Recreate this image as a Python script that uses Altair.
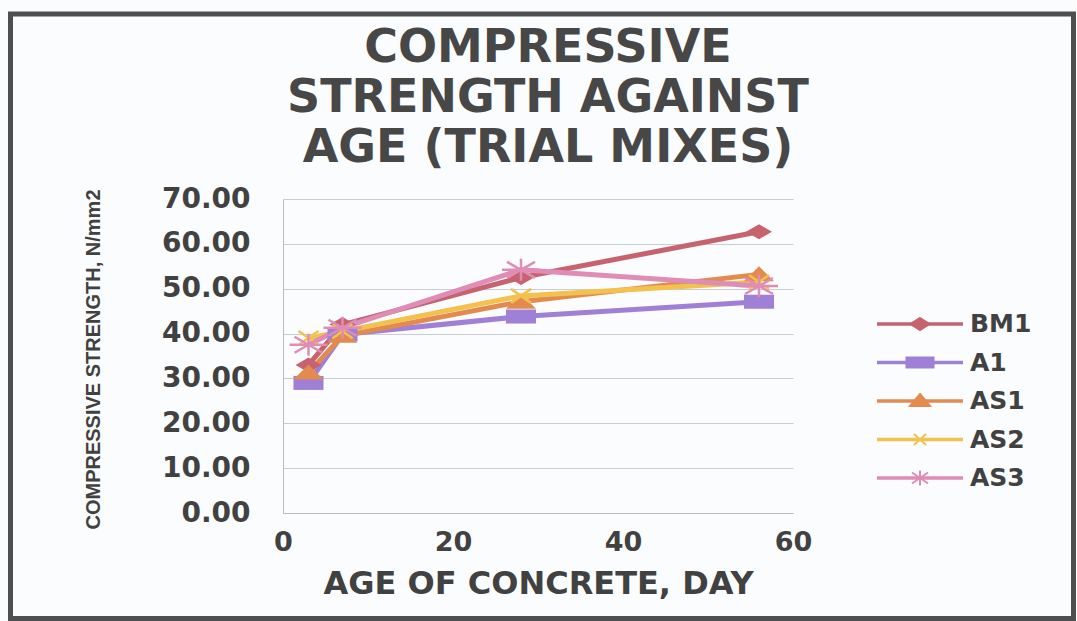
import altair as alt
import pandas as pd

# Compressive strength (N/mm2) of the trial mixes at each test age (days)
ages = [3, 7, 28, 56]
series_names = ["BM1", "A1", "AS1", "AS2", "AS3"]
strength = {
    "BM1": [33.0, 42.0, 52.5, 62.7],
    "A1": [29.0, 39.8, 43.8, 47.1],
    "AS1": [31.3, 39.5, 47.1, 53.2],
    "AS2": [39.0, 40.5, 48.4, 51.5],
    "AS3": [37.5, 41.3, 54.2, 50.6],
}
y_ticks = [0, 10, 20, 30, 40, 50, 60, 70]
x_ticks = [0, 20, 40, 60]
title_lines = ["COMPRESSIVE", "STRENGTH AGAINST", "AGE (TRIAL MIXES)"]

colors = ["#c6636f", "#a07fd6", "#e38b4f", "#f2c14e", "#df8db6"]

# marker drawn at each data point (wide shapes, unit box scaled by size)
marker_paths = {
    "BM1": "M0,-0.75L1.3,0L0,0.75L-1.3,0Z",
    "A1": "M-1.5,-0.7H1.5V0.7H-1.5Z",
    "AS1": "M0,-0.8L1.5,0.7L-1.5,0.7Z",
    "AS2": "M-1,-0.7L1,0.7M-1,0.7L1,-0.7",
    "AS3": "M-1.9,0L1.9,0M0,-1.1L0,1.1M-1.4,-0.8L1.4,0.8M-1.4,0.8L1.4,-0.8",
}
marker_filled = {"BM1": True, "A1": True, "AS1": True, "AS2": False, "AS3": False}

# smaller markers for the legend keys
key_paths = [
    "M0,-1.2L1.9,0L0,1.2L-1.9,0Z",
    "M-2.7,-1H2.7V1H-2.7Z",
    "M0,-1.4L2,1L-2,1Z",
    "M-1.2,-1.1L1.2,1.1M-1.2,1.1L1.2,-1.1",
    "M-2.2,0L2.2,0M0,-1.5L0,1.5M-1.6,-1.1L1.6,1.1M-1.6,1.1L1.6,-1.1",
]

rows = []
for name in series_names:
    for age, val in zip(ages, strength[name]):
        rows.append({"series": name, "age": age, "strength": val})
df = pd.DataFrame(rows)
legend_df = pd.DataFrame({"series": series_names})

color_scale = alt.Scale(domain=series_names, range=colors)
label_font = "DejaVu Sans"
text_color = "#414141"

x_enc = alt.X(
    "age:Q",
    scale=alt.Scale(domain=[0, 60], nice=False),
    axis=alt.Axis(
        values=x_ticks,
        format="d",
        title="AGE OF CONCRETE, DAY",
        grid=False,
        ticks=False,
        labelFlush=False,
        labelPadding=16,
        titlePadding=13,
        domainColor="#b9bec6",
        labelFont=label_font,
        labelFontSize=27,
        labelFontWeight="bold",
        labelColor=text_color,
        titleFont=label_font,
        titleFontSize=32,
        titleFontWeight="bold",
        titleColor=text_color,
    ),
)
y_enc = alt.Y(
    "strength:Q",
    scale=alt.Scale(domain=[0, 70], nice=False),
    axis=alt.Axis(
        values=y_ticks,
        format=".2f",
        title="COMPRESSIVE STRENGTH, N/mm2",
        ticks=False,
        labelFlush=False,
        labelPadding=33,
        gridColor="#c9cdd3",
        domainColor="#b9bec6",
        labelFont=label_font,
        labelFontSize=28,
        labelFontWeight="bold",
        labelColor=text_color,
        titleFont="Liberation Sans",
        titleFontSize=20,
        titleFontWeight="bold",
        titleColor=text_color,
        titleX=-190,
        titleY=160,
        titleAlign="center",
        titleBaseline="middle",
    ),
)

base = alt.Chart(df)

lines = base.mark_line(strokeWidth=5).encode(
    x=x_enc,
    y=y_enc,
    stroke=alt.Stroke("series:N", scale=color_scale, legend=None),
    detail="series:N",
    order="age:Q",
)

marker_layers = []
for name in series_names:
    if marker_filled[name]:
        paint = {"fill": alt.Fill("series:N", scale=color_scale, legend=None)}
    else:
        paint = {"stroke": alt.Stroke("series:N", scale=color_scale, legend=None)}
    marker_layers.append(
        base.transform_filter(alt.datum.series == name)
        .mark_point(
            shape=marker_paths[name],
            filled=marker_filled[name],
            size=400,
            strokeWidth=2.5,
            opacity=1,
        )
        .encode(x="age:Q", y="strength:Q", **paint)
    )

plot = alt.layer(lines, *marker_layers)

# legend: one row per series, placed by a point scale on its own y
row_y = alt.Y(
    "series:N",
    scale=alt.Scale(type="point", domain=series_names, range=[125, 279], padding=0),
    axis=None,
)
legend_base = alt.Chart(legend_df)
key_lines = legend_base.mark_rule(strokeWidth=3.5).encode(
    x=alt.value(594),
    x2=alt.value(680),
    y=row_y,
    stroke=alt.Stroke("series:N", scale=color_scale, legend=None),
)
key_marks = legend_base.mark_point(filled=True, size=100, strokeWidth=2, opacity=1).encode(
    x=alt.value(637),
    y=row_y,
    fill=alt.Fill("series:N", scale=color_scale, legend=None),
    stroke=alt.Stroke("series:N", scale=color_scale, legend=None),
    shape=alt.Shape(
        "series:N", scale=alt.Scale(domain=series_names, range=key_paths), legend=None
    ),
)
key_labels = legend_base.mark_text(
    align="left",
    baseline="middle",
    font=label_font,
    fontSize=25,
    fontWeight="bold",
    color=text_color,
).encode(x=alt.value(687), y=row_y, text="series:N")
legend = alt.layer(key_lines, key_marks, key_labels)

# dark border around the whole figure
frame = alt.Chart(pd.DataFrame({"k": [0]})).mark_rect(
    fill="transparent", stroke="#4f4f4f", strokeWidth=5
).encode(
    x=alt.value(-272.5),
    x2=alt.value(790.5),
    y=alt.value(-185),
    y2=alt.value(419.5),
)

chart = (
    alt.layer(frame, plot, legend)
    .resolve_scale(y="independent")
    .properties(
        width=510,
        height=314,
        padding={"left": 8, "top": 11, "right": 0, "bottom": 0},
        background="#fbfcfd",
        title=alt.TitleParams(
            text=title_lines,
            font=label_font,
            fontSize=46,
            fontWeight="bold",
            color="#474747",
            lineHeight=50,
            anchor="middle",
            offset=-160,
            dx=10,
        ),
    )
    .configure_view(stroke=None)
)

chart.save("out.html", embed_options={"renderer": "svg", "actions": False})
